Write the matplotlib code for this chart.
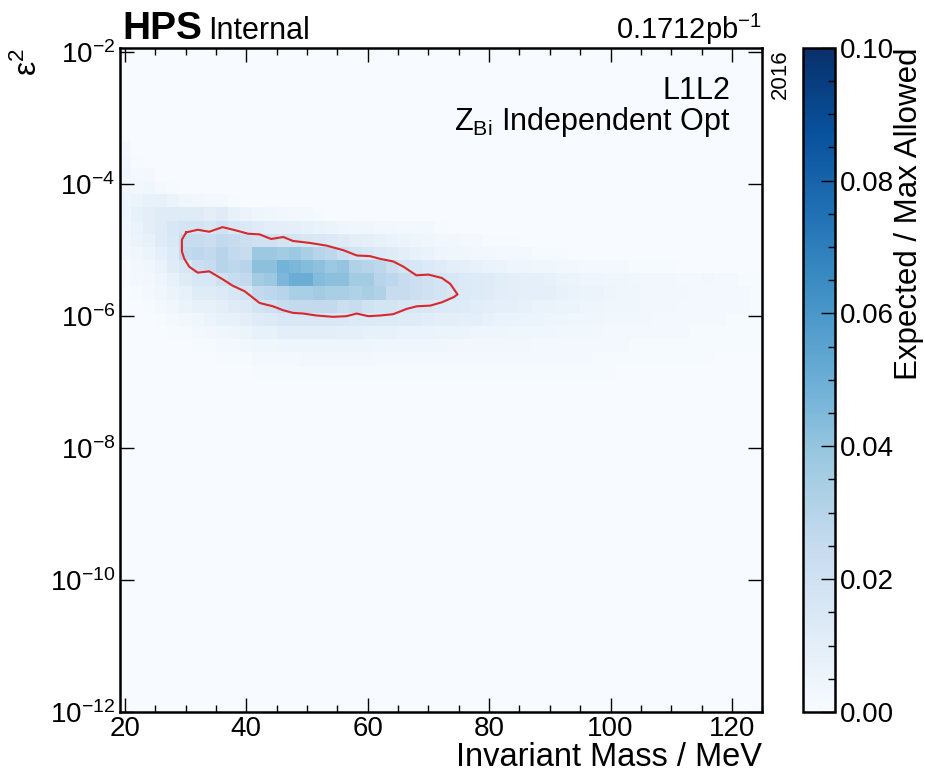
import numpy as np
import matplotlib
matplotlib.use("Agg")
import matplotlib.pyplot as plt
from matplotlib.ticker import MultipleLocator, FixedLocator, NullLocator

# 1. Binning of the map
mass_edges = np.arange(19, 127, 2)                 # MeV, 19 ... 125
log_eps2_edges = np.linspace(-11.95, -1.95, 51)    # log10(eps^2), 0.2 wide

# expected / max allowed, in units of 1e-3
# each row starts at the 19-21 MeV bin, rows go downward in eps^2
top_row_log_eps2 = -3.35
ratio_rows = [
    [2],
    [3, 1],
    [4, 2, 2],
    [4, 3, 4, 2, 1],
    [5, 6, 8, 8, 6, 4, 3, 2, 2, 1],
    [5, 8, 10, 12, 12, 12, 12, 10, 12, 8, 6, 5, 4, 3, 2, 2, 1],
    [4, 7, 10, 12, 16, 18, 18, 16, 20, 16, 14, 12, 10, 10, 9, 8, 7, 6, 5, 4, 4, 3, 3, 2, 2, 2, 1],
    [3, 6, 8, 12, 15, 24, 24, 22, 26, 24, 22, 20, 20, 18, 18, 16, 15, 14, 12, 10, 9, 8, 7, 6, 5, 4,
     3, 3, 2, 2, 1, 1, 1],
    [2, 4, 6, 9, 13, 26, 28, 26, 30, 26, 24, 38, 38, 36, 38, 34, 30, 28, 22, 18, 16, 14, 12, 10, 8, 7,
     5, 4, 4, 3, 3, 2, 2, 2, 1, 1, 1],
    [1, 3, 4, 7, 12, 16, 22, 24, 30, 28, 30, 42, 42, 48, 46, 44, 42, 38, 40, 32, 30, 28, 22, 18, 16, 14,
     12, 10, 9, 8, 7, 6, 5, 5, 4, 4, 3, 3, 2, 2, 2, 2, 1, 1, 1, 1],
    [1, 2, 3, 5, 8, 12, 16, 16, 20, 24, 26, 36, 38, 46, 50, 50, 44, 42, 42, 36, 36, 30, 28, 24, 22, 20,
     18, 16, 14, 13, 12, 11, 10, 9, 9, 8, 7, 6, 5, 5, 4, 4, 3, 3, 3, 3, 2, 2, 3, 2, 2, 1, 1],
    [0, 1, 2, 4, 6, 8, 12, 12, 14, 16, 18, 26, 28, 30, 34, 34, 36, 34, 34, 32, 34, 32, 24, 24, 22, 20,
     18, 16, 14, 13, 12, 11, 10, 9, 9, 9, 8, 7, 6, 6, 5, 4, 4, 3, 3, 3, 3, 2, 2, 2, 2, 2, 1],
    [0, 0, 1, 2, 4, 6, 8, 8, 10, 12, 14, 18, 20, 24, 26, 26, 26, 26, 22, 24, 20, 18, 18, 16, 16, 15,
     14, 13, 12, 11, 10, 9, 9, 8, 7, 7, 6, 6, 5, 5, 4, 4, 4, 3, 3, 3, 2, 2, 2, 2, 2, 2, 1],
    [0, 0, 0, 1, 2, 3, 4, 6, 8, 8, 10, 12, 14, 16, 16, 16, 16, 16, 15, 14, 14, 13, 13, 12, 12, 11,
     10, 10, 9, 9, 8, 7, 7, 6, 6, 5, 5, 4, 4, 4, 3, 3, 3, 3, 2, 2, 2, 2, 2, 2, 1, 1, 1],
    [0, 0, 0, 0, 1, 1, 2, 3, 4, 5, 6, 8, 8, 10, 10, 10, 10, 10, 9, 9, 8, 8, 8, 7, 7, 7,
     6, 6, 6, 5, 5, 5, 4, 4, 4, 4, 3, 3, 3, 3, 2, 2, 2, 2, 2, 2, 2, 1, 1, 1, 1, 1, 1],
    [0, 0, 0, 0, 0, 0, 1, 1, 2, 2, 3, 4, 4, 5, 5, 5, 5, 5, 5, 5, 5, 4, 4, 4, 4, 4,
     4, 3, 3, 3, 3, 3, 3, 3, 2, 2, 2, 2, 2, 2, 2, 2, 1, 1, 1, 1, 1, 1, 1, 1, 1, 1, 1],
    [0, 0, 0, 0, 0, 0, 0, 0, 1, 1, 1, 2, 2, 2, 2, 3, 3, 3, 3, 3, 3, 2, 2, 2, 2, 2,
     2, 2, 2, 2, 2, 2, 2, 2, 2, 2, 2, 2, 2, 1, 1, 1, 1, 1, 1, 1, 1, 1, 1],
    [0, 0, 0, 0, 0, 0, 0, 0, 0, 0, 0, 1, 1, 1, 1, 1, 1, 1, 1, 1, 1, 1, 1, 1, 1, 1,
     1, 1, 1, 1, 1, 1, 1, 1, 1, 1, 1, 1, 1, 1, 1],
]

# red contour outline (mass in MeV, log10 eps^2)
contour_mass = [30.1, 32.0, 33.9, 36.1, 38.3, 40.3, 42.2, 44.1, 46.1, 47.7, 50.5, 53.2, 56.0,
                58.2, 60.4, 62.0, 64.2, 65.9, 68.0, 70.0, 72.2, 73.6, 74.8, 74.2, 72.2, 70.3,
                68.1, 66.4, 64.2, 62.0, 60.1, 58.2, 56.5, 54.3, 51.6, 49.4, 47.7, 46.1, 44.4,
                42.2, 41.1, 39.7, 37.8, 36.1, 33.9, 32.0, 30.6, 29.8, 29.4, 29.4, 30.1]
contour_log_eps2 = [-4.73, -4.69, -4.72, -4.65, -4.70, -4.75, -4.76, -4.83, -4.80, -4.86, -4.89,
                    -4.93, -5.00, -5.08, -5.09, -5.13, -5.17, -5.25, -5.38, -5.37, -5.42, -5.51,
                    -5.67, -5.71, -5.79, -5.84, -5.85, -5.89, -5.97, -5.99, -6.00, -5.96, -6.00,
                    -6.01, -5.99, -5.96, -5.95, -5.91, -5.85, -5.80, -5.72, -5.62, -5.54, -5.44,
                    -5.32, -5.34, -5.25, -5.13, -5.02, -4.84, -4.73]

# 2. Fill the map
ratio = np.zeros((len(log_eps2_edges) - 1, len(mass_edges) - 1))
top = int(round((top_row_log_eps2 - log_eps2_edges[0]) / 0.2)) - 1
for k, row in enumerate(ratio_rows):
    ratio[top - k, :len(row)] = np.array(row) / 1000.0

# 3. Style
plt.rcParams['font.family'] = ['Liberation Sans', 'DejaVu Sans']
plt.rcParams['mathtext.fontset'] = 'custom'
plt.rcParams['mathtext.rm'] = 'Liberation Sans'
plt.rcParams['mathtext.it'] = 'Liberation Sans:italic'
plt.rcParams['mathtext.bf'] = 'Liberation Sans:bold'
plt.rcParams['mathtext.default'] = 'regular'

fig = plt.figure(figsize=(9.25, 7.74), dpi=100)
ax = fig.add_axes([0.1297, 0.0801, 0.6944, 0.8583])
cax = fig.add_axes([0.8681, 0.0801, 0.0346, 0.8583])

cmap = plt.get_cmap('Blues')
ax.set_facecolor(cmap(0.0))
mesh = ax.pcolormesh(mass_edges, 10.0 ** log_eps2_edges, ratio, cmap=cmap,
                     vmin=0.0, vmax=0.1, shading='flat')
ax.plot(contour_mass, 10.0 ** np.array(contour_log_eps2), color='#d9282c', linewidth=1.5)

ax.set_yscale('log')
ax.set_xlim(19.2, 125)
ax.set_ylim(1e-12, 10 ** -1.93)

ax.xaxis.set_major_locator(MultipleLocator(20))
ax.xaxis.set_minor_locator(MultipleLocator(5))
ax.yaxis.set_major_locator(FixedLocator([1e-12, 1e-10, 1e-8, 1e-6, 1e-4, 1e-2]))
ax.yaxis.set_minor_locator(NullLocator())
ax.tick_params(which='both', direction='in', top=True, right=True, labelsize=20)
ax.tick_params(which='major', length=10, width=1.0)
ax.tick_params(which='minor', length=5, width=1.0)
ax.tick_params(axis='x', pad=3)
for s in ax.spines.values():
    s.set_linewidth(1.8)

ax.set_xlabel('Invariant Mass / MeV', fontsize=23.5, loc='right', labelpad=0)
ax.set_ylabel('ε$^2$', fontsize=23, loc='top', labelpad=4)

# 4. Colour bar
cbar = fig.colorbar(mesh, cax=cax)
cbar.set_ticks([0.0, 0.02, 0.04, 0.06, 0.08, 0.10])
cbar.ax.yaxis.set_minor_locator(MultipleLocator(0.005))
cbar.ax.yaxis.set_major_formatter(plt.FormatStrFormatter('%.2f'))
cbar.ax.tick_params(which='both', direction='in', labelsize=20, width=1.0)
cbar.ax.tick_params(which='major', length=10)
cbar.ax.tick_params(which='minor', length=5)
cbar.outline.set_linewidth(1.8)
cbar.set_label('Expected / Max Allowed', fontsize=22.5, loc='top', labelpad=0)

# 5. Labels on the plot
ax.text(0.003, 1.013, 'HPS', transform=ax.transAxes, fontsize=28, fontweight='bold',
        ha='left', va='baseline')
ax.text(0.138, 1.013, 'Internal', transform=ax.transAxes, fontsize=22,
        ha='left', va='baseline')
ax.text(1.0, 1.013, '0.1712pb$^{-1}$', transform=ax.transAxes, fontsize=21,
        ha='right', va='baseline')
ax.text(1.0125, 0.997, '2016', transform=ax.transAxes, fontsize=16, rotation=90,
        ha='left', va='top')
ax.text(0.95, 0.922, 'L1L2', transform=ax.transAxes, fontsize=22, ha='right', va='baseline')
ax.text(0.95, 0.876, '$Z_{Bi}$ Independent Opt', transform=ax.transAxes, fontsize=22,
        ha='right', va='baseline')

fig.savefig('out.png', dpi=100)
